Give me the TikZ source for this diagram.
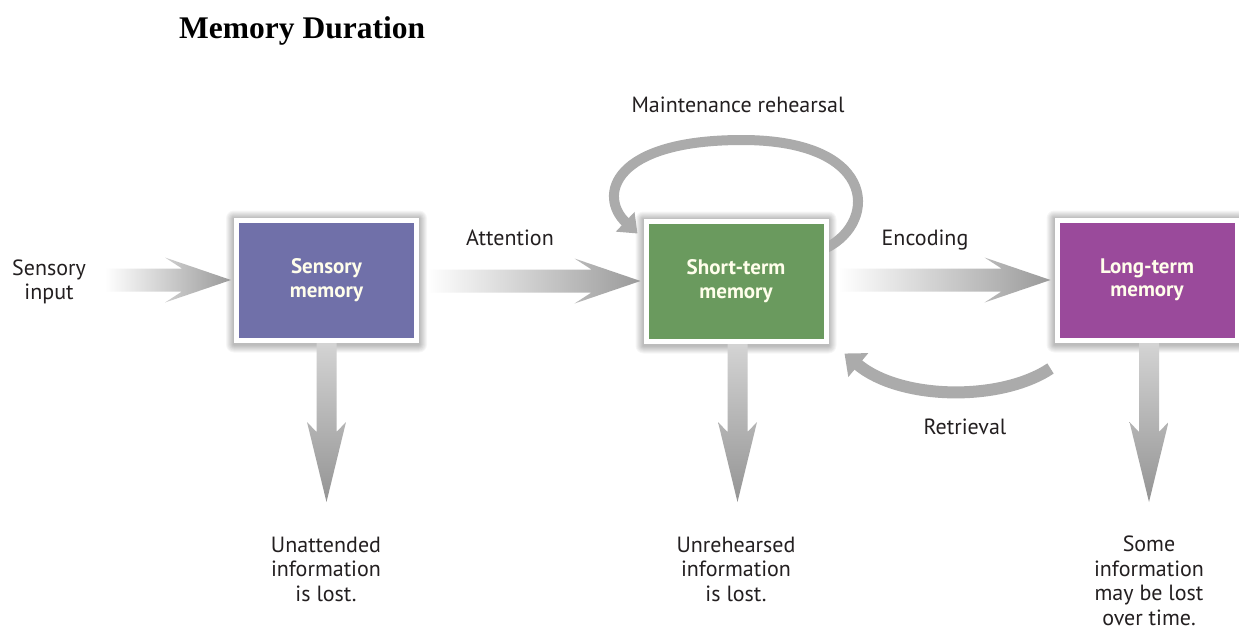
\documentclass[tikz,border=0pt]{standalone}
\usepackage{fontspec}
\setmainfont{Liberation Serif}
\newfontfamily\lab{PT Sans}
\usetikzlibrary{arrows.meta,calc,backgrounds}
\definecolor{txt}{HTML}{231F20}
\definecolor{smc}{HTML}{7070A9}
\definecolor{stc}{HTML}{6A9A5E}
\definecolor{ltc}{HTML}{9A4A9B}
\definecolor{arrg}{HTML}{9A9A9A}
\definecolor{loopg}{HTML}{ABABAB}
\newcommand\harrow[2]{\path[left color=white, right color=arrg] let \p1=(#1), \p2=(#2) in
  (\x1,\y2+11.5pt) -- (\x2-49pt,\y2+11.5pt) -- (\x2-66pt,\y2+22.5pt) -- (\x2,\y2) --
  (\x2-66pt,\y2-22.5pt) -- (\x2-49pt,\y2-11.5pt) -- (\x1,\y2-11.5pt) -- cycle;}
\newcommand\varrow[2]{\path[top color=black!17, bottom color=black!42] let \p1=(#1), \p2=(#2) in
  (\x2-10pt,\y1) -- (\x2-10pt,\y2+70pt) -- (\x2-19.5pt,\y2+80pt) -- (\x2,\y2) --
  (\x2+19.5pt,\y2+80pt) -- (\x2+10pt,\y2+70pt) -- (\x2+10pt,\y1) -- cycle;}
\begin{document}
\begin{tikzpicture}[x=1pt,y=-1pt,
  box/.style={draw=white, line width=5pt, minimum width=180pt, minimum height=120pt,
    inner sep=0pt, font=\lab\bfseries\fontsize{21}{23.5}\selectfont,
    text=white!92!yellow, align=center},
  lbl/.style={font=\lab\fontsize{22}{24.5}\selectfont, text=txt, align=center, inner sep=0pt}]
\useasboundingbox (0,0) rectangle (1239,632);
% boxes
\node[box, fill=smc] (sm) at (326.5,280) {Sensory\\memory};
\node[box, fill=stc] (st) at (736,281) {Short-term\\memory};
\node[box, fill=ltc] (lt) at (1147,280) {Long-term\\memory};
% labels
\node[anchor=base west, font=\bfseries\fontsize{31.5}{36}\selectfont, inner sep=0pt] (title) at (179,38) {Memory Duration};
\node[lbl] (si) at (49,282) {Sensory\\input};
\node[lbl] (att) at (510,238) {Attention};
\node[lbl] (mr) at (738,105) {Maintenance rehearsal};
\node[lbl] (enc) at (925,240) {Encoding};
\node[lbl] (ret) at (965,427) {Retrieval};
\node[lbl] (u1) at (326,569) {Unattended\\information\\is lost.};
\node[lbl] (u2) at (736,569) {Unrehearsed\\information\\is lost.};
\node[lbl] (u3) at (1149,581) {Some\\information\\may be lost\\over time.};
% free ends
\coordinate (sinp) at (105,280);
\coordinate (d1) at (326.5,502);
\coordinate (d2) at (737.5,502);
\coordinate (d3) at (1149,502);
\begin{scope}[on background layer]
  \fill[white] (0,0) rectangle (1239,632);
  \foreach \b in {sm,st,lt}{
    \foreach \k in {1,...,8}{
      \fill[black, opacity=0.035, rounded corners=\k pt]
        ($(\b.south west)+(-\k,\k+2)$) rectangle ($(\b.north east)+(\k,-\k+1)$);
    }
  }
  \harrow{sinp}{$(sm.west)+(-3,0)$}
  \harrow{$(sm.east)+(8,0)$}{$(st.west)+(-3,0)$}
  \harrow{$(st.east)+(10,0)$}{$(lt.west)+(-4,0)$}
  \varrow{sm.south}{d1}
  \varrow{st.south}{d2}
  \varrow{lt.south}{d3}
  \draw[loopg, line width=10pt, -{Triangle[length=17pt,width=26pt]}]
    ($(st.north east)+(-8,32)$) .. controls (878,228) and (882,140) .. (742,140)
    .. controls (612,140) and (598,196) .. ($(st.north west)+(-6,15)$);
  \draw[loopg, line width=12pt, -{Triangle[length=18pt,width=30pt]}]
    ($(lt.south west)+(-4,26)$) .. controls (1000,402) and (900,400) .. ($(st.south east)+(16,10)$);
\end{scope}
\end{tikzpicture}
\end{document}
